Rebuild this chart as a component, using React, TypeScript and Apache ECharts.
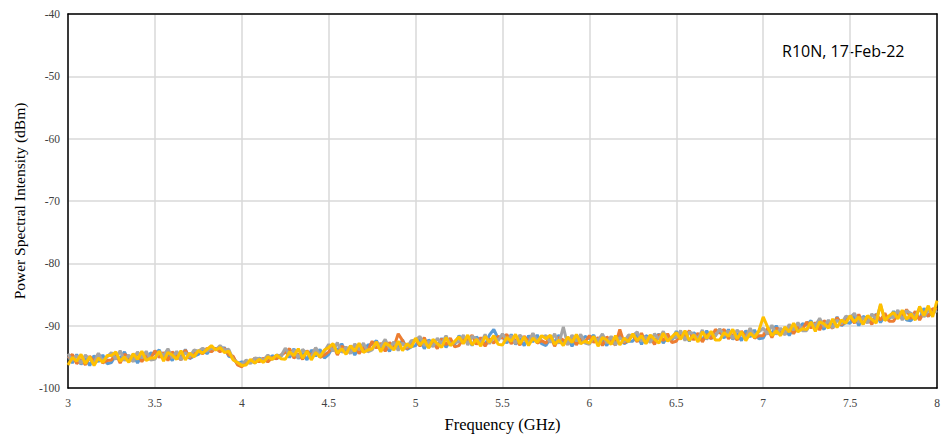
import React, { useEffect, useRef } from "react";
import * as echarts from "echarts";

const xTitle = "Frequency (GHz)";
const yTitle = "Power Spectral Intensity (dBm)";
const note = "R10N, 17-Feb-22";
const seriesNames = ["Trace 1", "Trace 2", "Trace 3", "Trace 4"];
const colors = ["#5B9BD5", "#ED7D31", "#A5A5A5", "#FFC000"];

// sampling grid: 3.000 GHz to 8.000 GHz every 0.025 GHz (201 points)
const freqStart = 3;
const freqStep = 0.025;

const blue = [
  -94.9, -96.0, -94.6, -96.2, -95.3, -96.4, -94.8, -95.8, -94.7, -96.1,
  -95.9, -94.7, -95.3, -94.2, -95.7, -94.6, -96.0, -94.8, -95.5, -94.4,
  -94.5, -93.9, -95.4, -94.7, -95.6, -94.2, -95.1, -93.8, -95.3, -94.9,
  -94.6, -93.9, -94.5, -93.6, -93.7, -94.0, -93.5, -94.9, -95.1, -96.1,
  -95.8, -96.2, -95.6, -96.0, -95.2, -95.5, -95.7, -94.8, -95.3, -94.9,
  -94.0, -95.1, -93.7, -95.3, -94.4, -95.5, -93.9, -94.9, -93.8, -95.2,
  -94.6, -93.4, -94.0, -92.9, -94.4, -93.3, -94.7, -93.5, -94.2, -93.1,
  -93.0, -92.4, -93.9, -93.2, -94.1, -92.7, -93.6, -92.3, -93.8, -93.4,
  -93.2, -92.1, -93.7, -92.3, -92.7, -93.4, -92.0, -93.5, -92.4, -93.0,
  -91.6, -92.7, -91.9, -93.2, -91.8, -92.5, -93.1, -91.5, -90.6, -92.1,
  -91.7, -92.8, -91.4, -93.0, -92.1, -93.2, -91.6, -92.6, -91.5, -92.9,
  -93.2, -92.0, -92.6, -91.5, -93.0, -91.9, -93.3, -92.1, -92.8, -91.7,
  -92.1, -91.5, -93.0, -92.3, -93.2, -91.8, -92.7, -91.4, -92.9, -92.5,
  -92.5, -91.4, -93.0, -91.6, -92.0, -92.7, -91.3, -92.8, -91.7, -92.3,
  -90.9, -92.0, -91.2, -92.5, -91.1, -91.8, -92.4, -90.8, -92.1, -91.4,
  -90.9, -92.0, -90.6, -92.2, -91.3, -92.4, -90.8, -91.8, -90.7, -92.1,
  -92.0, -90.7, -91.2, -90.0, -91.4, -90.3, -91.6, -90.3, -90.9, -89.7,
  -89.9, -89.2, -90.6, -89.8, -90.6, -89.2, -90.0, -88.6, -90.0, -89.5,
  -89.6, -88.4, -90.0, -88.5, -88.9, -89.5, -88.1, -89.5, -88.4, -88.9,
  -87.7, -88.7, -87.9, -89.1, -89.2, -88.3, -88.9, -87.2, -88.5, -87.7,
  -87.6,
];

const orange = [
  -95.2, -94.6, -96.1, -95.4, -96.3, -94.9, -95.8, -94.5, -96.0, -95.6,
  -95.5, -94.4, -96.0, -94.6, -95.0, -95.7, -94.3, -95.8, -94.7, -95.3,
  -94.0, -95.1, -94.3, -95.6, -94.2, -94.9, -95.5, -93.9, -95.2, -94.5,
  -94.1, -94.5, -93.6, -94.2, -93.6, -94.2, -93.6, -94.7, -94.9, -96.3,
  -96.6, -95.8, -95.9, -95.2, -95.8, -95.2, -95.8, -95.1, -95.3, -94.7,
  -94.3, -93.7, -95.2, -94.5, -95.4, -94.0, -94.9, -93.6, -95.1, -94.7,
  -94.2, -93.1, -94.7, -93.3, -93.7, -94.4, -93.0, -94.5, -93.4, -94.0,
  -92.5, -93.6, -92.8, -94.1, -92.7, -93.4, -91.3, -92.4, -93.7, -93.0,
  -92.2, -93.3, -91.9, -93.5, -92.6, -93.7, -92.1, -93.1, -92.0, -93.4,
  -93.2, -92.0, -92.6, -91.5, -93.0, -91.9, -93.3, -92.1, -92.8, -91.7,
  -92.0, -91.4, -92.9, -92.2, -93.1, -91.7, -92.6, -91.3, -92.8, -92.4,
  -92.8, -91.7, -93.3, -91.9, -92.3, -93.0, -91.6, -93.1, -92.0, -92.6,
  -91.6, -92.7, -91.9, -93.2, -91.8, -92.5, -93.1, -90.6, -92.8, -92.1,
  -91.5, -92.6, -91.2, -92.8, -91.9, -93.0, -91.4, -92.4, -91.3, -92.7,
  -92.5, -91.3, -91.9, -90.8, -92.3, -91.2, -92.6, -91.4, -92.1, -90.6,
  -91.2, -90.6, -92.1, -91.4, -92.3, -90.9, -91.8, -90.5, -92.0, -91.6,
  -91.6, -90.4, -91.9, -90.4, -90.7, -91.4, -89.9, -91.3, -90.1, -90.6,
  -89.4, -90.4, -89.5, -90.7, -89.2, -89.9, -90.4, -88.7, -89.9, -89.1,
  -88.6, -89.6, -88.2, -89.7, -88.8, -89.8, -88.2, -89.1, -88.0, -89.3,
  -89.3, -88.0, -88.6, -87.4, -88.9, -87.7, -89.1, -87.8, -88.5, -87.3,
  -87.4,
];

const gray = [
  -94.5, -95.6, -94.8, -96.1, -94.7, -95.4, -96.0, -94.4, -95.7, -95.0,
  -94.3, -95.4, -94.0, -95.6, -94.7, -95.8, -94.2, -95.2, -94.1, -95.5,
  -95.4, -94.2, -94.8, -93.7, -95.2, -94.1, -95.5, -94.3, -95.0, -93.9,
  -94.1, -93.6, -94.1, -93.6, -93.9, -93.2, -93.9, -93.8, -95.4, -95.9,
  -96.2, -95.5, -96.1, -95.2, -95.3, -95.5, -94.7, -95.4, -94.7, -94.9,
  -93.6, -94.7, -93.9, -95.2, -93.8, -94.5, -95.1, -93.5, -94.8, -94.1,
  -93.0, -94.1, -92.7, -94.3, -93.4, -94.5, -92.9, -93.9, -92.8, -94.2,
  -93.9, -92.7, -93.3, -92.2, -93.7, -92.6, -94.0, -92.8, -93.5, -92.4,
  -92.3, -91.7, -93.2, -92.5, -93.4, -92.0, -92.9, -91.6, -93.1, -92.7,
  -92.6, -91.5, -93.1, -91.7, -92.1, -92.8, -91.4, -92.9, -91.8, -92.4,
  -91.3, -92.4, -91.6, -92.9, -91.5, -92.2, -92.8, -91.2, -92.5, -91.8,
  -91.6, -92.7, -91.3, -92.9, -90.2, -93.1, -91.5, -92.5, -91.4, -92.8,
  -93.0, -91.8, -92.4, -91.3, -92.8, -91.7, -93.1, -91.9, -92.6, -91.5,
  -91.6, -91.0, -92.5, -91.8, -92.7, -91.3, -92.2, -90.9, -92.4, -92.0,
  -91.9, -90.8, -92.4, -91.0, -91.4, -92.1, -90.7, -92.2, -91.1, -91.7,
  -90.5, -91.6, -90.8, -92.1, -90.7, -91.4, -92.0, -90.4, -91.7, -91.0,
  -90.4, -91.4, -89.9, -91.4, -90.4, -91.5, -89.8, -90.7, -89.5, -90.8,
  -90.8, -89.5, -90.0, -88.8, -90.2, -89.1, -90.4, -89.1, -89.7, -88.5,
  -88.7, -88.0, -89.5, -88.7, -89.6, -88.1, -89.0, -86.7, -89.1, -88.6,
  -88.7, -87.5, -89.1, -87.6, -88.0, -88.6, -87.2, -88.6, -87.5, -88.0,
  -87.6,
];

const yellow = [
  -96.3, -95.1, -95.7, -94.6, -96.1, -95.0, -96.4, -95.2, -95.9, -94.8,
  -94.8, -94.2, -95.7, -95.0, -95.9, -94.5, -95.4, -94.1, -95.6, -95.2,
  -95.2, -94.1, -95.7, -94.3, -94.7, -95.4, -94.0, -95.5, -94.4, -95.0,
  -94.0, -94.4, -93.8, -93.2, -93.9, -93.5, -94.3, -94.1, -95.5, -95.9,
  -96.4, -96.3, -95.4, -96.0, -95.4, -95.9, -95.0, -95.4, -94.7, -95.3,
  -95.4, -94.2, -94.8, -93.7, -95.2, -94.1, -95.5, -94.3, -95.0, -93.9,
  -93.5, -92.9, -94.4, -93.7, -94.6, -93.2, -94.1, -92.8, -94.3, -93.9,
  -93.7, -92.6, -94.2, -92.8, -93.2, -93.9, -92.5, -94.0, -92.9, -93.5,
  -92.0, -93.1, -92.3, -93.6, -92.2, -92.9, -93.5, -91.9, -93.2, -92.5,
  -91.8, -92.9, -91.5, -93.1, -92.2, -93.3, -91.7, -92.7, -91.6, -93.0,
  -93.1, -91.9, -92.5, -91.4, -92.9, -91.8, -93.2, -92.0, -92.7, -91.6,
  -92.1, -91.5, -93.0, -92.3, -93.2, -91.8, -92.7, -91.4, -92.9, -92.5,
  -92.8, -91.7, -93.3, -91.9, -92.3, -93.0, -91.6, -93.1, -92.0, -92.6,
  -91.3, -92.4, -91.6, -92.9, -91.5, -92.2, -92.8, -91.2, -92.5, -91.8,
  -91.1, -92.2, -90.8, -92.4, -91.5, -92.6, -91.0, -92.0, -90.9, -92.3,
  -92.3, -91.1, -91.7, -90.6, -92.1, -91.0, -92.4, -91.2, -91.9, -90.8,
  -88.6, -90.2, -91.6, -90.8, -91.6, -90.2, -91.0, -89.6, -91.0, -90.5,
  -90.6, -89.4, -90.9, -89.4, -89.7, -90.4, -88.9, -90.3, -89.1, -89.6,
  -88.4, -89.4, -88.6, -89.8, -88.4, -89.0, -89.6, -86.5, -89.2, -88.4,
  -87.9, -88.9, -87.5, -89.0, -88.1, -89.1, -86.9, -88.4, -86.8, -88.6,
  -86.0,
];

const allSeries = [blue, orange, gray, yellow];

export default function App() {
  const ref = useRef<HTMLDivElement>(null);
  useEffect(() => {
    if (!ref.current) return;
    const chart = echarts.init(ref.current, null, { renderer: "svg" });
    const serif = "'Liberation Serif', 'Times New Roman', serif";
    const frameAxis = {
      axisLine: { show: true, lineStyle: { color: "#000", width: 1.5 } },
      axisTick: { show: false },
      axisLabel: { show: false },
      splitLine: { show: false },
    };
    chart.setOption({
      animation: false,
      backgroundColor: "#ffffff",
      grid: {
        left: 68,
        right: 6,
        top: 14,
        bottom: 53,
      },
      xAxis: [
        {
          type: "value",
          min: 3,
          max: 8,
          interval: 0.5,
          name: xTitle,
          nameLocation: "middle",
          nameGap: 28,
          nameTextStyle: { fontFamily: serif, fontSize: 16.5, color: "#000" },
          axisLine: { show: true, lineStyle: { color: "#000", width: 1.5 } },
          axisTick: { show: false },
          axisLabel: { fontFamily: serif, fontSize: 11.5, color: "#404040", margin: 9 },
          splitLine: { show: true, lineStyle: { color: "#d9d9d9", width: 1.5 } },
        },
        { type: "value", min: 3, max: 8, interval: 0.5, position: "top", ...frameAxis },
      ],
      yAxis: [
        {
          type: "value",
          min: -100,
          max: -40,
          interval: 10,
          name: yTitle,
          nameLocation: "middle",
          nameGap: 41,
          nameTextStyle: { fontFamily: serif, fontSize: 15.5, color: "#000" },
          axisLine: { show: true, lineStyle: { color: "#000", width: 1.5 } },
          axisTick: { show: false },
          axisLabel: { fontFamily: serif, fontSize: 11.5, color: "#404040", margin: 8 },
          splitLine: { show: true, lineStyle: { color: "#d9d9d9", width: 1.5 } },
        },
        { type: "value", min: -100, max: -40, interval: 10, position: "right", ...frameAxis },
      ],
      graphic: [
        {
          type: "text",
          left: 782,
          top: 43,
          style: {
            text: note,
            fontFamily: "'Open Sans', 'Liberation Sans', sans-serif",
            fontSize: 16,
            fill: "#000",
          },
        },
      ],
      series: allSeries.map((vals, k) => ({
        name: seriesNames[k],
        type: "line",
        showSymbol: false,
        symbol: "none",
        xAxisIndex: 0,
        yAxisIndex: 0,
        data: vals.map((v, i) => [+(freqStart + freqStep * i).toFixed(3), v]),
        lineStyle: { color: colors[k], width: 3 },
        itemStyle: { color: colors[k] },
        z: 2 + k,
      })),
    });
    return () => chart.dispose();
  }, []);
  return <div ref={ref} style={{ width: 943, height: 441, position: "absolute", left: 0, top: 0 }} />;
}
